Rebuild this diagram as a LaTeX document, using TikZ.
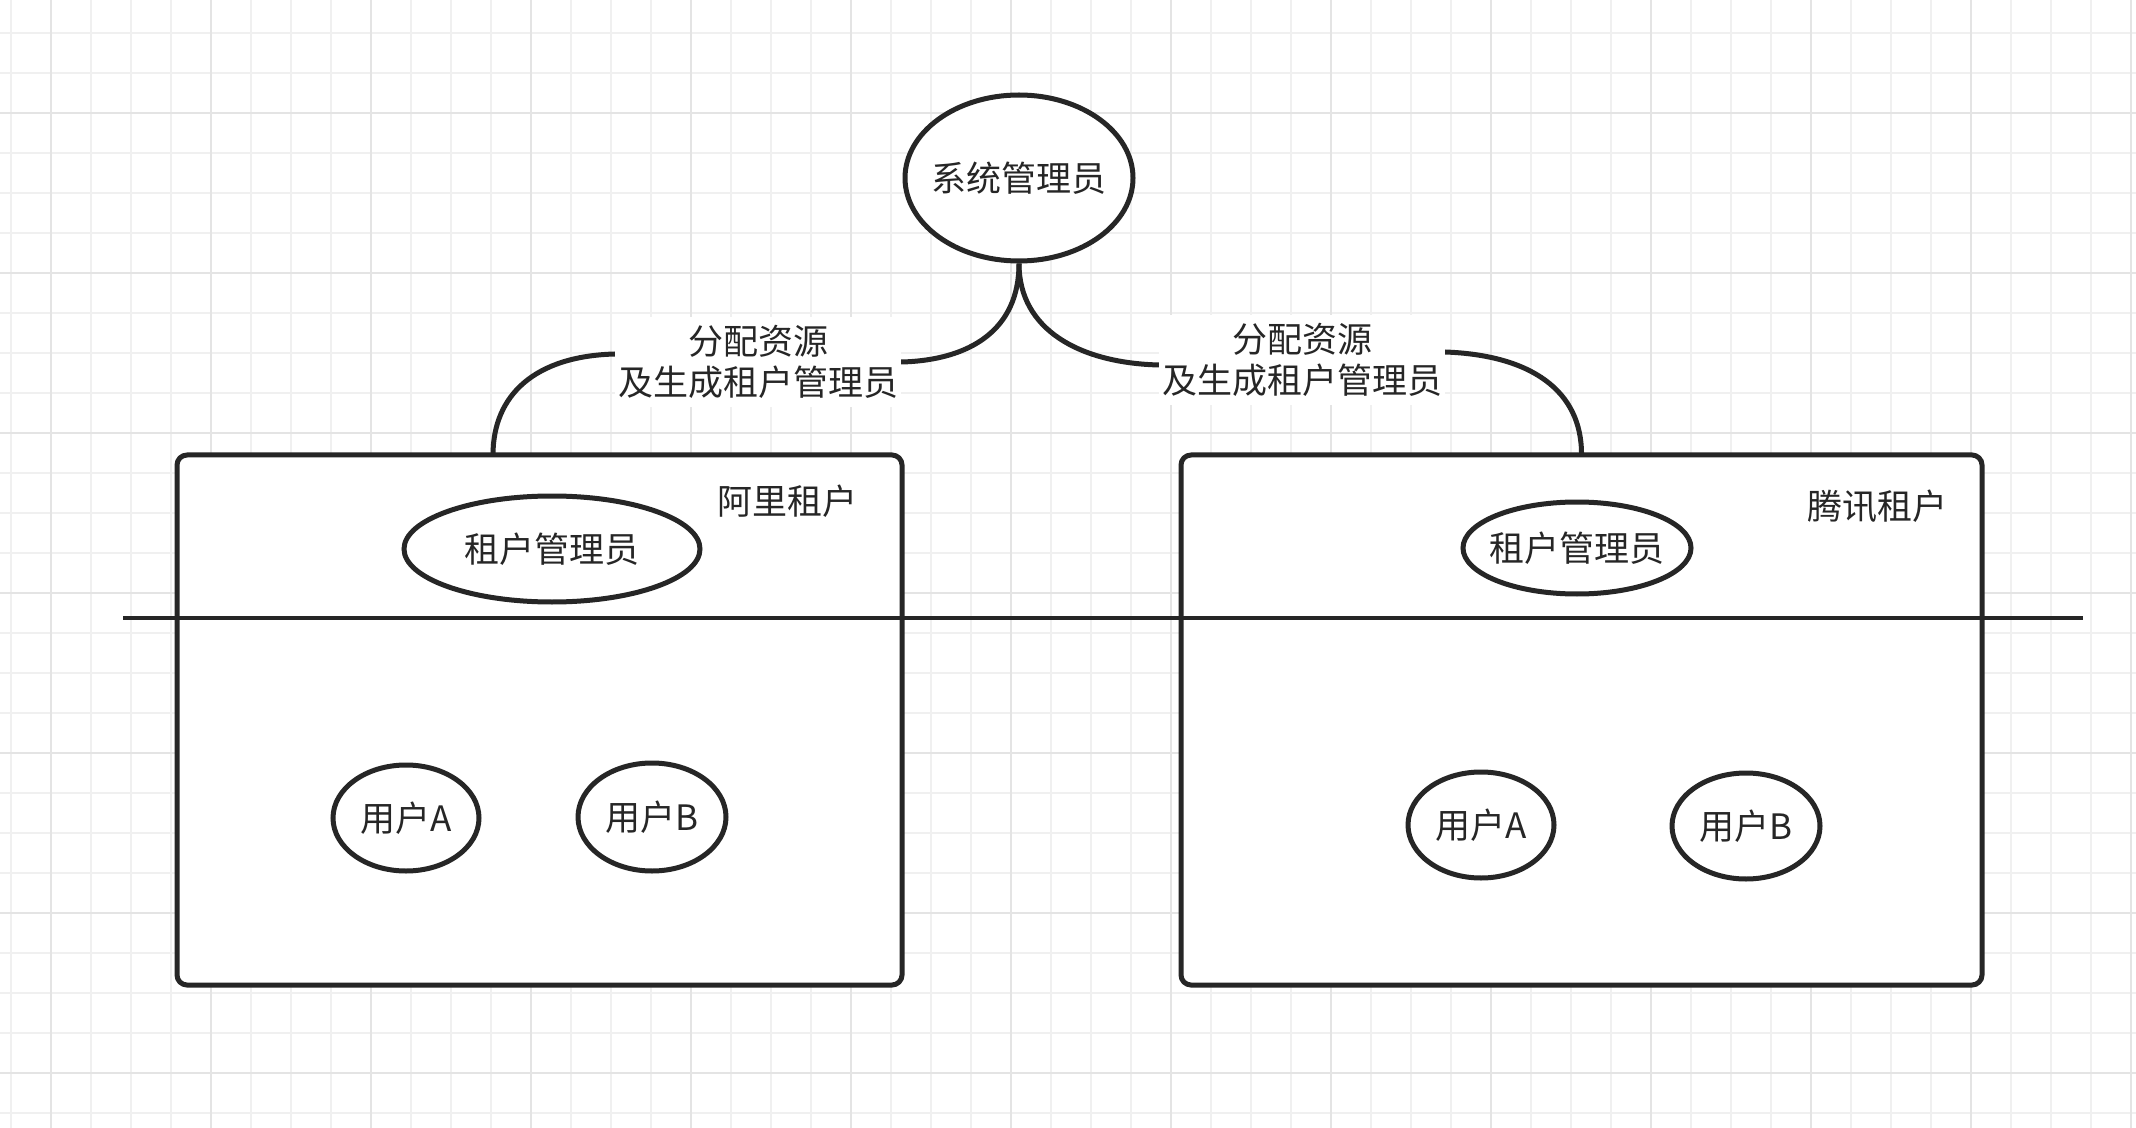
\documentclass[tikz,border=0pt]{standalone}
\usepackage{fontspec}
\newfontfamily\cjk{Noto Sans CJK SC}
\usetikzlibrary{shapes.geometric}
\definecolor{ink}{HTML}{262626}
\definecolor{gminor}{HTML}{F0F0F0}
\definecolor{gmajor}{HTML}{E4E4E4}
\begin{document}
\begin{tikzpicture}[x=0.5pt,y=-0.5pt,
  txt/.style={font=\cjk\fontsize{17.5}{20.5}\selectfont, text=ink},
  ell/.style={ellipse, draw=ink, line width=2.5pt, fill=white, inner sep=0pt, txt},
  tenantbox/.style={rectangle, draw=ink, line width=2.5pt, fill=white, rounded corners=5pt, inner sep=0pt, outer sep=0pt},
  conn/.style={draw=ink, line width=2.5pt},
  edgelabel/.style={fill=white, inner sep=0pt, align=center, txt, minimum width=143pt, minimum height=45pt},
  minorline/.style={draw=gminor, line width=1pt},
  majorline/.style={draw=gmajor, line width=1pt},
  divider/.style={draw=ink, line width=2.4pt}
]
\useasboundingbox (0,0) rectangle (2136,1128);
\fill[white] (0,0) rectangle (2136,1128);
% grid
\foreach \x in {11,51,...,2131} \draw[minorline] (\x,0) -- (\x,1128);
\foreach \y in {33,73,...,1113} \draw[minorline] (0,\y) -- (2136,\y);
\foreach \x in {51,211,...,2131} \draw[majorline] (\x,0) -- (\x,1128);
\foreach \y in {113,273,...,1073} \draw[majorline] (0,\y) -- (2136,\y);

% tenant boxes
\node[tenantbox, minimum width=362.5pt, minimum height=265pt] (lbox) at (539.5,720) {};
\node[tenantbox, minimum width=400.5pt, minimum height=265pt] (rbox) at (1581.5,720) {};
\node[txt] (ltitle) at (787,501) {阿里租户};
\node[txt] (rtitle) at (1877,506) {腾讯租户};

% divider line
\coordinate (hl) at (123,618);
\coordinate (hr) at (2083,618);
\draw[divider] (hl) -- (hr);

% ellipses
\node[ell, minimum width=114pt, minimum height=83pt] (sys) at (1019,178) {\makebox[0pt]{系统管理员}};
\node[ell, minimum width=148pt, minimum height=53pt] (ladm) at (552,549) {\makebox[0pt]{租户管理员}};
\node[ell, minimum width=114pt, minimum height=46pt] (radm) at (1577,548) {\makebox[0pt]{租户管理员}};
\node[ell, minimum width=73pt, minimum height=53pt] (lua) at (406,818) {\makebox[0pt]{用户A}};
\node[ell, minimum width=74pt, minimum height=54pt] (lub) at (652,817) {\makebox[0pt]{用户B}};
\node[ell, minimum width=73pt, minimum height=53pt] (rua) at (1481,825) {\makebox[0pt]{用户A}};
\node[ell, minimum width=74pt, minimum height=53pt] (rub) at (1746,826) {\makebox[0pt]{用户B}};

% connectors
\coordinate (lend) at ([xshift=158pt]lbox.north west);
\draw[conn] (sys.south) .. controls (1019,330) and (970,360) .. (902,362) -- (615,354) .. controls (535,356) and (493,395) .. (lend);
\draw[conn] (sys.south) .. controls (1019,330) and (1080,363) .. (1159,365) -- (1445,352) .. controls (1530,355) and (1582,390) .. (rbox.north);

% edge labels
\node[edgelabel] (llab) at (758,362) {分配资源\\及生成租户管理员};
\node[edgelabel] (rlab) at (1302,360) {分配资源\\及生成租户管理员};
\end{tikzpicture}
\end{document}
